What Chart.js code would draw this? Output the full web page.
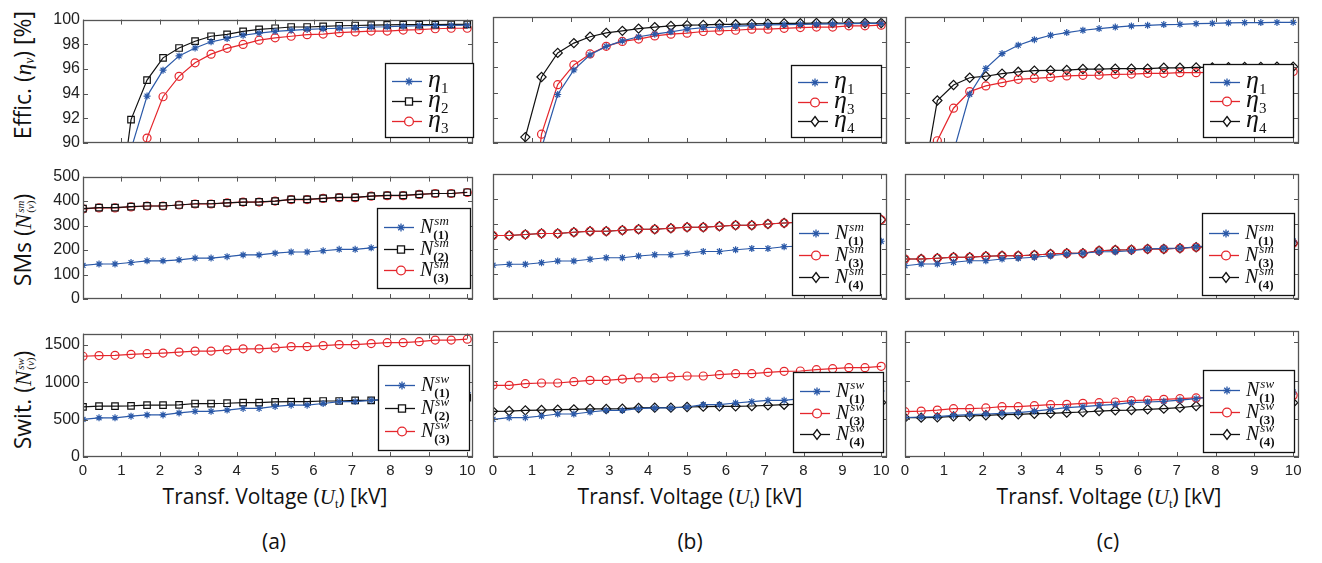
<!DOCTYPE html>
<html lang="en">
<head>
<meta charset="UTF-8">
<title>Efficiency, SMs and switches vs. transformer voltage</title>
<script src="https://cdn.jsdelivr.net/npm/chart.js@4.4.1/dist/chart.umd.min.js"></script>
<style>
  body { margin: 0; background: #fff; width: 1322px; height: 563px; position: relative; overflow: hidden;
         font-family: "Open Sans", "DejaVu Sans", sans-serif; color: #111; }
  canvas.cell { position: absolute; }
  .ytitle { position: absolute; transform: translate(-50%, -50%) rotate(-90deg); white-space: nowrap; font-size: 23px; }
  .xtitle { position: absolute; transform: translate(-50%, -50%); white-space: nowrap; font-size: 21px; }
  .m { font-family: "Liberation Serif", "DejaVu Serif", serif; font-style: italic; }
  .rm { font-family: "Liberation Serif", "DejaVu Serif", serif; font-size: 0.6em; vertical-align: -0.25em; }
  .ss { display: inline-flex; flex-direction: column; vertical-align: middle; font-family: "Liberation Serif", serif;
        font-size: 11px; line-height: 10px; margin-left: 1px; }
  .ss .up { font-style: italic; }
</style>
</head>
<body>

<!-- axis titles -->
<div class="ytitle" style="left:22px; top:75px;">Effic. (<span class="m">η</span><span class="rm m">ν</span>) [%]</div>
<div class="ytitle" style="left:22px; top:240px;">SMs (<span class="m">N</span><span class="ss"><span class="up">sm</span><span>(<i>ν</i>)</span></span>)</div>
<div class="ytitle" style="left:22px; top:400px;">Swit. (<span class="m">N</span><span class="ss"><span class="up">sw</span><span>(<i>ν</i>)</span></span>)</div>

<div class="xtitle" style="left:275px; top:497px;">Transf. Voltage (<span class="m">U</span><span class="rm">t</span>) [kV]</div>
<div class="xtitle" style="left:690px; top:497px;">Transf. Voltage (<span class="m">U</span><span class="rm">t</span>) [kV]</div>
<div class="xtitle" style="left:1109px; top:497px;">Transf. Voltage (<span class="m">U</span><span class="rm">t</span>) [kV]</div>
<div class="xtitle" style="left:274px; top:541px;">(a)</div>
<div class="xtitle" style="left:690px; top:541px;">(b)</div>
<div class="xtitle" style="left:1108px; top:541px;">(c)</div>

<script>
// transformer voltage [kV]
const VOLT = [0, 0.417, 0.833, 1.25, 1.667, 2.083, 2.5, 2.917, 3.333, 3.75, 4.167, 4.583, 5,
              5.417, 5.833, 6.25, 6.667, 7.083, 7.5, 7.917, 8.333, 8.75, 9.167, 9.583, 10];

// (a) efficiency [%]
const A_ETA1 = [55, 72, 83, 89.5, 93.8, 95.9, 97.06, 97.7, 98.2, 98.47, 98.73, 98.9, 99.05, 99.13, 99.2, 99.26, 99.3, 99.34, 99.4, 99.42, 99.47, 99.5, 99.52, 99.53, 99.55];
const A_ETA2 = [45, 68, 82, 91.9, 95.1, 96.9, 97.7, 98.25, 98.65, 98.8, 99.05, 99.2, 99.3, 99.4, 99.4, 99.45, 99.5, 99.52, 99.55, 99.57, 99.6, 99.6, 99.6, 99.62, 99.62];
const A_ETA3 = [35, 55, 72, 84, 90.4, 93.75, 95.4, 96.5, 97.2, 97.67, 97.99, 98.33, 98.52, 98.65, 98.78, 98.83, 98.94, 99.0, 99.07, 99.07, 99.15, 99.18, 99.26, 99.3, 99.3];
// (a) number of SMs
const A_SM1 = [137, 143, 143, 149, 156, 156, 160, 167, 167, 173, 180, 180, 187, 192, 192, 197, 203, 203, 209, 216, 220, 224, 228, 232, 236];
const A_SM2 = [369, 373, 373, 377, 380, 380, 384, 389, 389, 393, 396, 397, 400, 407, 407, 411, 415, 415, 420, 423, 423, 427, 431, 431, 436];
const A_SM3 = [368, 372, 372, 376, 380, 380, 384, 388, 388, 393, 396, 396, 400, 406, 406, 411, 414, 414, 420, 422, 422, 427, 431, 431, 435];
// (a) number of switches
const A_SW1 = [502, 524, 524, 546, 563, 563, 589, 611, 611, 628, 650, 650, 676, 693, 693, 715, 741, 741, 758, 775, 792, 810, 827, 844, 862];
const A_SW2 = [671, 680, 680, 684, 693, 693, 697, 715, 715, 719, 728, 728, 736, 741, 741, 749, 749, 758, 758, 771, 775, 780, 785, 790, 793];
const A_SW3 = [1347, 1356, 1360, 1373, 1381, 1390, 1403, 1416, 1416, 1433, 1446, 1446, 1459, 1477, 1477, 1490, 1503, 1503, 1516, 1529, 1529, 1542, 1563, 1563, 1576];

// (b)
const B_ETA1 = [50, 70, 82, 89.6, 93.85, 95.8, 97.0, 97.67, 98.1, 98.43, 98.64, 98.82, 99.03, 99.16, 99.2, 99.27, 99.32, 99.37, 99.4, 99.42, 99.44, 99.46, 99.48, 99.5, 99.5];
const B_ETA3 = [45, 65, 80, 90.7, 94.63, 96.2, 97.07, 97.67, 98.06, 98.25, 98.5, 98.64, 98.72, 98.85, 98.9, 98.95, 99.03, 99.03, 99.1, 99.16, 99.2, 99.2, 99.3, 99.3, 99.35];
const B_ETA4 = [60, 78, 90.47, 95.24, 97.15, 97.93, 98.43, 98.74, 98.9, 99.08, 99.2, 99.29, 99.35, 99.37, 99.42, 99.42, 99.45, 99.47, 99.5, 99.5, 99.52, 99.52, 99.52, 99.52, 99.52];
const B_SM1 = [135, 139, 139, 145, 152, 152, 159, 165, 165, 172, 177, 177, 183, 190, 190, 197, 202, 202, 209, 212, 216, 220, 224, 228, 231];
const B_SM3 = [254, 254, 258, 262, 262, 267, 271, 271, 275, 279, 279, 283, 287, 287, 291, 295, 295, 300, 304, 307, 309, 311, 313, 315, 317];
const B_SM4 = [254, 254, 258, 262, 262, 267, 271, 271, 275, 279, 279, 283, 287, 287, 291, 295, 295, 300, 304, 307, 309, 311, 313, 315, 317];
const B_SW1 = [493, 515, 515, 537, 563, 563, 589, 611, 611, 633, 642, 642, 655, 685, 685, 707, 725, 742, 742, 764, 786, 808, 825, 845, 864];
const B_SW3 = [938, 938, 960, 969, 969, 986, 1004, 1004, 1021, 1035, 1035, 1048, 1061, 1061, 1078, 1091, 1091, 1109, 1122, 1126, 1144, 1157, 1170, 1170, 1187];
const B_SW4 = [598, 602, 611, 615, 620, 624, 629, 629, 633, 642, 646, 646, 655, 659, 663, 663, 668, 677, 685, 690, 695, 700, 705, 710, 715];

// (c)
const C_ETA1 = [40, 62, 78, 89.3, 93.87, 95.92, 97.1, 97.76, 98.2, 98.55, 98.76, 98.95, 99.08, 99.2, 99.29, 99.34, 99.4, 99.42, 99.47, 99.5, 99.53, 99.55, 99.56, 99.57, 99.58];
const C_ETA3 = [60, 76, 90.18, 92.76, 94.08, 94.53, 94.79, 95.05, 95.13, 95.21, 95.32, 95.37, 95.39, 95.45, 95.47, 95.53, 95.53, 95.58, 95.58, 95.6, 95.62, 95.64, 95.65, 95.66, 95.68];
const C_ETA4 = [55, 86, 93.37, 94.6, 95.18, 95.3, 95.5, 95.65, 95.74, 95.76, 95.79, 95.87, 95.87, 95.9, 95.9, 95.9, 95.97, 95.97, 96.0, 96.0, 96.02, 96.03, 96.04, 96.05, 96.05];
const C_SM1 = [133, 140, 140, 147, 153, 153, 160, 163, 167, 173, 180, 183, 189, 189, 193, 200, 203, 203, 209, 214, 218, 222, 226, 229, 232];
const C_SM3 = [160, 160, 163, 167, 167, 171, 173, 173, 176, 180, 183, 183, 193, 196, 197, 200, 200, 203, 207, 211, 214, 216, 219, 221, 223];
const C_SM4 = [160, 160, 163, 167, 167, 171, 173, 173, 176, 180, 183, 183, 193, 196, 197, 200, 200, 203, 207, 211, 214, 216, 219, 221, 223];
const C_SW1 = [515, 524, 528, 546, 554, 563, 572, 581, 602, 624, 646, 659, 677, 690, 711, 720, 729, 746, 764, 790, 808, 821, 834, 842, 851];
const C_SW3 = [594, 602, 615, 633, 633, 642, 659, 659, 672, 685, 690, 703, 711, 720, 738, 746, 755, 764, 773, 780, 786, 792, 797, 802, 807];
const C_SW4 = [515, 515, 519, 532, 537, 546, 554, 559, 567, 572, 581, 589, 602, 611, 615, 624, 633, 646, 668, 675, 683, 690, 698, 705, 711];

// axis ranges and tick labels per row
const Y_MIN = [90, 0, 0];
const Y_MAX = [100, 500, 1650];
const Y_TICKS = [
  [90, 92, 94, 96, 98, 100],
  [0, 100, 200, 300, 400, 500],
  [0, 500, 1000, 1500]
];
const X_TICKS = [0, 1, 2, 3, 4, 5, 6, 7, 8, 9, 10];

// ---- styles ----
const BLUE = '#2b59a8', RED = '#e5262c', BLACK = '#111111';
const STY = {
  star:    { color: BLUE,  pointStyle: 'star',    radius: 3.5, fill: BLUE },
  square:  { color: BLACK, pointStyle: 'rect',    radius: 4.6, fill: 'rgba(0,0,0,0)' },
  circle:  { color: RED,   pointStyle: 'circle',  radius: 4.0, fill: 'rgba(0,0,0,0)' },
  diamond: { color: BLACK, pointStyle: 'rectRot', radius: 4.6, fill: 'rgba(0,0,0,0)' }
};

// plot frames (screen px) and legend boxes
const COLS = [[83, 473], [493, 887], [905, 1299]];
const ROWS = [[17, 143], [174, 299], [331, 457]];
const LEG = [
  [[385, 63, 88, 74], [377, 208, 93, 80], [378, 365, 91, 85]],
  [[791, 65, 90, 72], [792, 213, 88, 82], [793, 372, 90, 80]],
  [[1203, 64, 90, 73], [1202, 213, 92, 82], [1203, 370, 91, 82]]
];

function ser(data, sty, base, sup, sub) {
  return { data, sty, math: { base, sup, sub } };
}
const CELLS = [
  [
    [ser(A_ETA1, 'star', 'η', null, '1'), ser(A_ETA2, 'square', 'η', null, '2'), ser(A_ETA3, 'circle', 'η', null, '3')],
    [ser(A_SM1, 'star', 'N', 'sm', '(1)'), ser(A_SM2, 'square', 'N', 'sm', '(2)'), ser(A_SM3, 'circle', 'N', 'sm', '(3)')],
    [ser(A_SW1, 'star', 'N', 'sw', '(1)'), ser(A_SW2, 'square', 'N', 'sw', '(2)'), ser(A_SW3, 'circle', 'N', 'sw', '(3)')]
  ],
  [
    [ser(B_ETA1, 'star', 'η', null, '1'), ser(B_ETA3, 'circle', 'η', null, '3'), ser(B_ETA4, 'diamond', 'η', null, '4')],
    [ser(B_SM1, 'star', 'N', 'sm', '(1)'), ser(B_SM3, 'circle', 'N', 'sm', '(3)'), ser(B_SM4, 'diamond', 'N', 'sm', '(4)')],
    [ser(B_SW1, 'star', 'N', 'sw', '(1)'), ser(B_SW3, 'circle', 'N', 'sw', '(3)'), ser(B_SW4, 'diamond', 'N', 'sw', '(4)')]
  ],
  [
    [ser(C_ETA1, 'star', 'η', null, '1'), ser(C_ETA3, 'circle', 'η', null, '3'), ser(C_ETA4, 'diamond', 'η', null, '4')],
    [ser(C_SM1, 'star', 'N', 'sm', '(1)'), ser(C_SM3, 'circle', 'N', 'sm', '(3)'), ser(C_SM4, 'diamond', 'N', 'sm', '(4)')],
    [ser(C_SW1, 'star', 'N', 'sw', '(1)'), ser(C_SW3, 'circle', 'N', 'sw', '(3)'), ser(C_SW4, 'diamond', 'N', 'sw', '(4)')]
  ]
];

// small marker drawer for the legend
function marker(ctx, style, r, x, y) {
  ctx.beginPath();
  if (style === 'circle') {
    ctx.arc(x, y, r, 0, Math.PI * 2);
    ctx.fill(); ctx.stroke();
  } else if (style === 'rect') {
    const s = r / Math.SQRT2;
    ctx.rect(x - s, y - s, 2 * s, 2 * s);
    ctx.fill(); ctx.stroke();
  } else if (style === 'rectRot') {
    ctx.moveTo(x, y - r); ctx.lineTo(x + r * 0.75, y); ctx.lineTo(x, y + r); ctx.lineTo(x - r * 0.75, y); ctx.closePath();
    ctx.fill(); ctx.stroke();
  } else {
    for (let k = 0; k < 4; k++) {
      const a = k * Math.PI / 4;
      ctx.moveTo(x - Math.cos(a) * r, y - Math.sin(a) * r);
      ctx.lineTo(x + Math.cos(a) * r, y + Math.sin(a) * r);
    }
    ctx.stroke();
  }
}

const SERIF = '"Liberation Serif", "DejaVu Serif", serif';
const TICKFONT = '"Liberation Sans", Arial, sans-serif';

const framePlugin = {
  id: 'framePlugin',
  afterDatasetsDraw(chart, args, opts) {
    const ctx = chart.ctx, a = chart.chartArea;
    const xs = chart.scales.x, ys = chart.scales.y;
    ctx.save();
    ctx.strokeStyle = '#555';
    ctx.lineWidth = 1;
    ctx.beginPath();
    xs.ticks.forEach(t => {
      const px = Math.round(xs.getPixelForValue(t.value)) + 0.5;
      ctx.moveTo(px, a.bottom); ctx.lineTo(px, a.bottom - 5);
      ctx.moveTo(px, a.top); ctx.lineTo(px, a.top + 5);
    });
    ys.ticks.forEach(t => {
      const py = Math.round(ys.getPixelForValue(t.value)) + 0.5;
      ctx.moveTo(a.left, py); ctx.lineTo(a.left + 5, py);
      ctx.moveTo(a.right, py); ctx.lineTo(a.right - 5, py);
    });
    ctx.stroke();
    ctx.lineWidth = 1.3;
    ctx.strokeRect(Math.round(a.left) + 0.5, Math.round(a.top) + 0.5, Math.round(a.width) - 1, Math.round(a.height) - 1);

    // legend box
    const [bx, by, bw, bh] = opts.box;
    const x0 = bx - opts.offX, y0 = by - opts.offY;
    ctx.fillStyle = '#fff';
    ctx.fillRect(x0, y0, bw, bh);
    ctx.strokeStyle = '#111';
    ctx.lineWidth = 1.3;
    ctx.strokeRect(x0 + 0.5, y0 + 0.5, bw, bh);
    const fr = [0.24, 0.51, 0.78];
    chart.data.datasets.forEach((ds, i) => {
      const ey = Math.round(y0 + bh * fr[i]) + 0.5;
      const st = STY[ds.sty];
      ctx.strokeStyle = st.color;
      ctx.lineWidth = 1.3;
      ctx.beginPath(); ctx.moveTo(x0 + 7, ey); ctx.lineTo(x0 + 37, ey); ctx.stroke();
      ctx.fillStyle = st.pointStyle === 'star' ? st.color : '#fff';
      marker(ctx, st.pointStyle, st.radius + 0.4, x0 + 24, ey);
      // math label
      const m = ds.math;
      let tx = x0 + 43;
      ctx.fillStyle = '#111';
      ctx.textBaseline = 'alphabetic';
      ctx.textAlign = 'left';
      if (m.sup === null) {
        ctx.font = 'italic 26px ' + SERIF;
        ctx.fillText(m.base, tx, ey + 5);
        tx += ctx.measureText(m.base).width;
        ctx.font = '15px ' + SERIF;
        ctx.fillText(m.sub, tx, ey + 11);
      } else {
        ctx.font = 'italic 20px ' + SERIF;
        ctx.fillText(m.base, tx, ey + 5);
        tx += ctx.measureText(m.base).width + 1;
        ctx.font = 'italic 13px ' + SERIF;
        ctx.fillText(m.sup, tx, ey - 3);
        ctx.font = 'bold 13px ' + SERIF;
        ctx.fillText(m.sub, tx - 1, ey + 11);
      }
    });
    ctx.restore();
  }
};

const ML = 40, MR = 10, MT = 10, MB = 30;

for (let c = 0; c < 3; c++) {
  for (let r = 0; r < 3; r++) {
    const [px0, px1] = COLS[c];
    const [py0, py1] = ROWS[r];
    const cv = document.createElement('canvas');
    cv.className = 'cell';
    cv.width = px1 - px0 + ML + MR;
    cv.height = py1 - py0 + MT + MB;
    cv.style.left = (px0 - ML) + 'px';
    cv.style.top = (py0 - MT) + 'px';
    document.body.appendChild(cv);

    const datasets = CELLS[c][r].map(s => {
      const st = STY[s.sty];
      return {
        data: s.data.map((v, i) => ({ x: VOLT[i], y: v })),
        sty: s.sty,
        math: s.math,
        borderColor: st.color,
        borderWidth: 1.2,
        pointStyle: st.pointStyle,
        pointRadius: st.radius,
        pointBorderWidth: 1.2,
        pointBorderColor: st.color,
        pointBackgroundColor: st.fill,
        tension: 0
      };
    });

    const yTicks = Y_TICKS[r];
    new Chart(cv, {
      type: 'line',
      data: { datasets },
      options: {
        responsive: false,
        animation: false,
        devicePixelRatio: 1,
        events: [],
        layout: { padding: { top: MT, right: MR, left: 0, bottom: 0 }, autoPadding: false },
        plugins: {
          legend: { display: false },
          tooltip: { enabled: false },
          framePlugin: { box: LEG[c][r], offX: px0 - ML, offY: py0 - MT }
        },
        scales: {
          x: {
            type: 'linear', min: 0, max: 10.15,
            afterFit: s => { s.height = MB; },
            afterBuildTicks: s => { s.ticks = X_TICKS.map(v => ({ value: v })); },
            grid: { display: false, drawTicks: false },
            border: { display: false },
            ticks: {
              display: r === 2, padding: 5, color: '#222', maxRotation: 0, autoSkip: false,
              callback: v => String(v),
              font: { family: TICKFONT, size: 15 }
            }
          },
          y: {
            min: Y_MIN[r], max: Y_MAX[r],
            afterFit: s => { s.width = ML; },
            afterBuildTicks: s => { s.ticks = yTicks.map(v => ({ value: v })); },
            grid: { display: false, drawTicks: false },
            border: { display: false },
            ticks: {
              display: c === 0, autoSkip: false, padding: 3, color: '#222',
              callback: v => String(v),
              font: { family: TICKFONT, size: 16 }
            }
          }
        }
      },
      plugins: [framePlugin]
    });
  }
}
</script>
</body>
</html>
